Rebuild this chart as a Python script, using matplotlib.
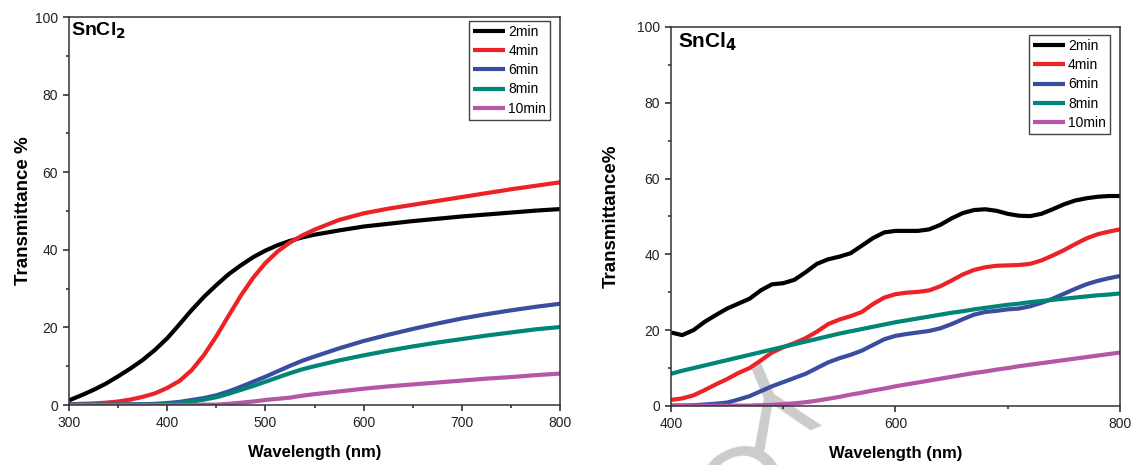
import numpy as np
import matplotlib
matplotlib.use("Agg")
import matplotlib.pyplot as plt
from matplotlib.ticker import MultipleLocator

plt.rcParams['font.family'] = ['Liberation Sans', 'DejaVu Sans']

labels = ['2min', '4min', '6min', '8min', '10min']
colors = ['#000000', '#EC2227', '#3B4DA0', '#008577', '#B357A6']

# SnCl2 panel
wl_a = [300, 312.5, 325, 337.5, 350, 362.5, 375, 387.5, 400, 412.5, 425, 437.5,
        450, 462.5, 475, 487.5, 500, 512.5, 525, 537.5, 550,
        575, 600, 625, 650, 675, 700, 725, 750, 775, 800]
sncl2_2 = [1.2, 2.5, 3.9, 5.5, 7.4, 9.4, 11.6, 14.2, 17.2, 20.8, 24.5, 27.9,
           30.9, 33.7, 36.0, 38.1, 39.8, 41.2, 42.3, 43.2, 43.9,
           45.0, 46.0, 46.7, 47.4, 48.0, 48.6, 49.1, 49.6, 50.1, 50.5]
sncl2_4 = [0.2, 0.3, 0.4, 0.6, 0.9, 1.4, 2.1, 3.0, 4.4, 6.2, 9.0, 12.9,
           17.7, 23.0, 28.2, 32.8, 36.6, 39.6, 41.9, 43.7, 45.2,
           47.7, 49.4, 50.6, 51.6, 52.6, 53.6, 54.6, 55.6, 56.5, 57.4]
sncl2_6 = [0.1, 0.1, 0.1, 0.1, 0.1, 0.2, 0.2, 0.3, 0.5, 0.8, 1.3, 1.8,
           2.5, 3.5, 4.7, 6.0, 7.3, 8.7, 10.1, 11.4, 12.5,
           14.6, 16.5, 18.1, 19.6, 21.0, 22.3, 23.4, 24.4, 25.3, 26.1]
sncl2_8 = [0.1, 0.1, 0.1, 0.1, 0.1, 0.1, 0.1, 0.1, 0.3, 0.5, 0.9, 1.4,
           2.0, 2.9, 3.9, 4.9, 6.0, 7.1, 8.2, 9.2, 10.0,
           11.5, 12.8, 14.0, 15.1, 16.1, 17.0, 17.9, 18.7, 19.5, 20.1]
sncl2_10 = [0.0, 0.0, 0.0, 0.0, 0.0, 0.0, 0.0, 0.0, 0.0, 0.0, 0.0, 0.1,
            0.1, 0.3, 0.6, 0.9, 1.3, 1.6, 1.9, 2.4, 2.8,
            3.5, 4.2, 4.8, 5.3, 5.8, 6.3, 6.8, 7.2, 7.7, 8.1]

# SnCl4 panel
wl_b = [400, 410, 420, 430, 440, 450, 460, 470, 480, 490, 500, 510, 520, 530,
        540, 550, 560, 570, 580, 590, 600, 610, 620, 630, 640, 650, 660, 670,
        680, 690, 700, 710, 720, 730, 740, 750, 760, 770, 780, 790, 800]
sncl4_2 = [19.4, 18.7, 20.0, 22.2, 24.0, 25.7, 27.0, 28.3, 30.5, 32.1, 32.4, 33.3, 35.3, 37.5,
           38.7, 39.4, 40.3, 42.3, 44.3, 45.8, 46.2, 46.2, 46.2, 46.6, 47.8, 49.5, 50.9, 51.7,
           51.9, 51.5, 50.7, 50.2, 50.1, 50.7, 51.9, 53.2, 54.2, 54.8, 55.2, 55.4, 55.4]
sncl4_4 = [1.6, 2.0, 2.8, 4.2, 5.7, 7.1, 8.7, 10.0, 12.0, 14.1, 15.5, 16.6, 17.9, 19.6,
           21.6, 22.8, 23.7, 24.8, 26.9, 28.6, 29.5, 29.9, 30.1, 30.5, 31.6, 33.1, 34.7, 35.9,
           36.6, 37.0, 37.1, 37.2, 37.5, 38.4, 39.7, 41.1, 42.7, 44.2, 45.3, 46.0, 46.6]
sncl4_6 = [0.1, 0.1, 0.2, 0.4, 0.6, 0.9, 1.7, 2.6, 3.9, 5.2, 6.3, 7.4, 8.5, 10.0,
           11.5, 12.6, 13.5, 14.6, 16.1, 17.6, 18.5, 19.0, 19.4, 19.8, 20.5, 21.6, 22.9, 24.1,
           24.8, 25.1, 25.5, 25.7, 26.3, 27.2, 28.3, 29.6, 30.9, 32.1, 33.0, 33.7, 34.3]
sncl4_8 = [8.5, 9.3, 10.0, 10.7, 11.4, 12.1, 12.8, 13.5, 14.2, 14.9, 15.6, 16.3, 17.0, 17.7,
           18.4, 19.1, 19.7, 20.3, 20.9, 21.5, 22.1, 22.6, 23.1, 23.6, 24.1, 24.6, 25.0, 25.5,
           25.9, 26.3, 26.7, 27.0, 27.4, 27.7, 28.0, 28.3, 28.6, 28.9, 29.2, 29.4, 29.7]
sncl4_10 = [0.1, 0.1, 0.1, 0.1, 0.1, 0.1, 0.1, 0.1, 0.2, 0.3, 0.5, 0.7, 1.0, 1.4,
            1.9, 2.4, 3.0, 3.5, 4.1, 4.6, 5.2, 5.7, 6.2, 6.7, 7.2, 7.7, 8.2, 8.7,
            9.1, 9.6, 10.0, 10.5, 10.9, 11.3, 11.7, 12.1, 12.5, 12.9, 13.3, 13.7, 14.1]

fig = plt.figure(figsize=(11.33, 4.65), dpi=100)
ax1 = fig.add_axes([0.0609, 0.1290, 0.4334, 0.8344])
ax2 = fig.add_axes([0.5922, 0.1269, 0.3963, 0.8151])

# faint watermark behind the plots
fig.text(0.673, 0.158, 'Y', fontsize=86, color='#cccccc', rotation=203,
         rotation_mode='anchor', ha='center', va='center', zorder=-1)
fig.text(0.643, -0.03, 'O', fontsize=86, color='#cccccc', rotation=203,
         rotation_mode='anchor', ha='center', va='center', zorder=-1)


def style(ax, xmin, xmax, xmaj, ylab, ylabpad):
    ax.set_facecolor('none')
    ax.set_xlim(xmin, xmax)
    ax.set_ylim(0, 100)
    ax.xaxis.set_major_locator(MultipleLocator(xmaj))
    ax.xaxis.set_minor_locator(MultipleLocator(xmaj / 2))
    ax.yaxis.set_major_locator(MultipleLocator(20))
    ax.yaxis.set_minor_locator(MultipleLocator(10))
    ax.tick_params(which='both', direction='out', top=False, right=False,
                   labelsize=10, colors='#222222', width=1.1)
    ax.tick_params(which='major', length=4, pad=4)
    ax.tick_params(which='minor', length=2.5)
    for s in ax.spines.values():
        s.set_linewidth(1.1)
        s.set_color('#333333')
    ax.set_xlabel('Wavelength (nm)', fontsize=12, fontweight='bold', labelpad=11)
    ax.set_ylabel(ylab, fontsize=13.5, fontweight='bold', labelpad=ylabpad)
    ax.legend(loc='upper right', bbox_to_anchor=(0.98, 0.99), fontsize=10,
              handlelength=2.3, handletextpad=0.2, labelspacing=0.37,
              borderpad=0.3, borderaxespad=0, fancybox=False, framealpha=1,
              edgecolor='#444444')


for y, c, lab in zip([sncl2_2, sncl2_4, sncl2_6, sncl2_8, sncl2_10], colors, labels):
    ax1.plot(wl_a, y, color=c, lw=3, label=lab, solid_capstyle='butt')
style(ax1, 300, 800, 100, 'Transmittance %', 2)
ax1.text(0.004, 0.99, 'SnCl$_\\mathbf{2}$', transform=ax1.transAxes, fontsize=14,
         fontweight='bold', va='top', ha='left')

for y, c, lab in zip([sncl4_2, sncl4_4, sncl4_6, sncl4_8, sncl4_10], colors, labels):
    ax2.plot(wl_b, y, color=c, lw=3, label=lab, solid_capstyle='butt')
style(ax2, 400, 800, 200, 'Transmittance%', 12)
ax2.legend_.set_bbox_to_anchor((0.978, 0.979))
ax2.text(0.016, 0.99, 'SnCl$_\\mathbf{4}$', transform=ax2.transAxes, fontsize=15,
         fontweight='bold', va='top', ha='left')

fig.savefig('out.png', dpi=100)
